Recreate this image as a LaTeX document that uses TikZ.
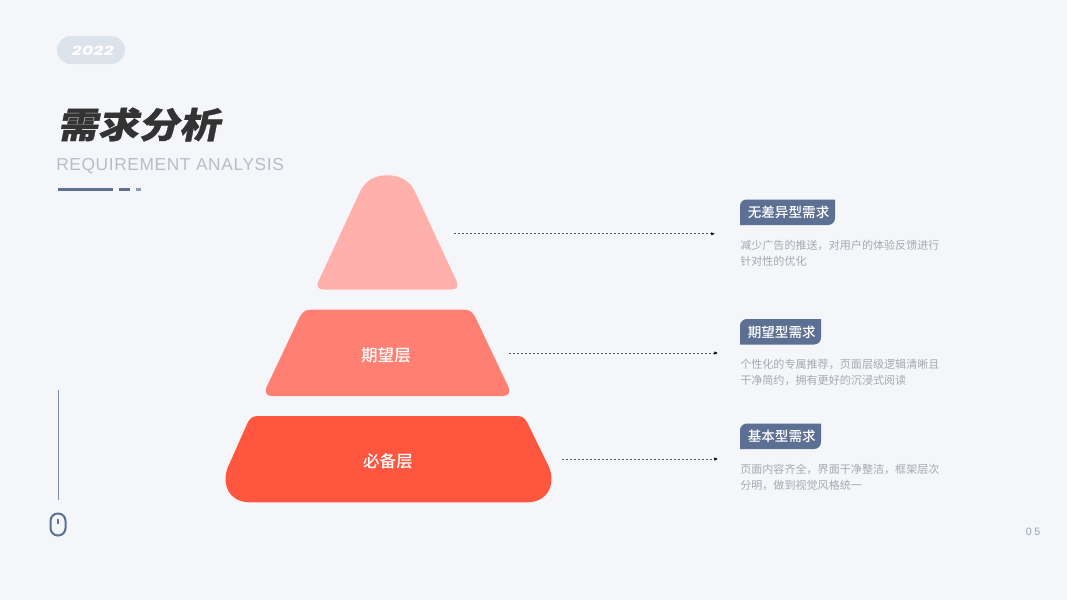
\documentclass[tikz,border=0pt]{standalone}
\usepackage{fontspec}
\setmainfont{Noto Sans CJK SC}
\newfontfamily\medfont{Noto Sans CJK SC Medium}
\newfontfamily\ttlfont[FakeSlant=0.2,FakeBold=0.8,FakeStretch=1.15]{Noto Sans CJK SC Black}
\newfontfamily\yearfont[FakeSlant=0.2,FakeStretch=1.35,LetterSpace=4]{Poppins Bold}
\newfontfamily\enfont[LetterSpace=3.6]{Liberation Sans}
\newfontfamily\numfont[LetterSpace=24]{Liberation Sans}
\usetikzlibrary{arrows.meta}
\definecolor{bgc}{HTML}{F4F6FA}
\definecolor{navy}{HTML}{5C7094}
\definecolor{descc}{HTML}{A8A9AF}
\definecolor{subc}{HTML}{B9BDC9}
\definecolor{pillc}{HTML}{DDE3EA}
\definecolor{lay1}{HTML}{FFB0AA}
\definecolor{lay2}{HTML}{FF8073}
\definecolor{lay3}{HTML}{FF563F}
\tikzset{
  x=0.75pt,y=-0.75pt,
  tagbox/.style={fill=navy,draw=none},
  tagtext/.style={text=white,font=\medfont\fontsize{10.2pt}{12pt}\selectfont,anchor=west,inner sep=0pt},
  desc/.style={text=descc,font=\fontsize{8.3pt}{11.9pt}\selectfont,anchor=north west,inner sep=0pt,align=left},
  laylabel/.style={text=white,font=\medfont\fontsize{12.4pt}{14pt}\selectfont,inner sep=0pt},
  leader/.style={draw=black!65,line width=0.5pt,dash pattern=on 1.7pt off 1.3pt,-{Latex[length=2.8pt,width=2.6pt,black]}}
}
\begin{document}
\begin{tikzpicture}
\useasboundingbox (0,0) rectangle (1067,600);
\fill[bgc] (0,0) rectangle (1067,600);
% year pill
\fill[pillc,rounded corners=10.5pt] (57,36) rectangle (125,64);
\node[inner sep=0pt,text=white,font=\yearfont\fontsize{9.5pt}{12pt}\selectfont] (year) at (92,50.5) {2022};
% title
\node[anchor=west,inner sep=0pt,text=black!80,font=\ttlfont\fontsize{26.5pt}{30pt}\selectfont] (title) at (57,124.5) {需求分析};
\node[anchor=west,inner sep=0pt,text=subc,font=\enfont\fontsize{13pt}{14pt}\selectfont] (sub) at (56,166.5) {REQUIREMENT ANALYSIS};
\fill[navy] (58,187.5) rectangle (113,190.5);
\fill[navy] (119,187.5) rectangle (130,190.5);
\fill[navy!70!white] (136,187.5) rectangle (141,190.5);
% pyramid
\fill[lay1] (360,191.7) .. controls (366,180) and (375,175.3) .. (387.3,175.3)
  .. controls (399.7,175.3) and (409,180) .. (415,191.7)
  -- (455.5,279) .. controls (459.5,286) and (457.5,289.5) .. (451,289.5)
  -- (324,289.5) .. controls (317.5,289.5) and (315.5,286) .. (319.5,279) -- cycle;
\fill[lay2] (300,316.5) .. controls (303,311.5) and (306,309.7) .. (311,309.7)
  -- (464,309.7) .. controls (469,309.7) and (472,311.5) .. (475,316.5)
  -- (507,384) .. controls (511.5,392) and (509,396) .. (503,396)
  -- (272,396) .. controls (266,396) and (263.5,392) .. (268,384) -- cycle;
\fill[lay3] (247.5,423) .. controls (250,418) and (253,416) .. (258,416)
  -- (517,416) .. controls (522,416) and (525,418) .. (527.5,423)
  -- (549,467) .. controls (556,484) and (548,502.3) .. (527,502.3)
  -- (250,502.3) .. controls (229,502.3) and (221,484) .. (228,467) -- cycle;
\node[laylabel] (l2) at (386,355) {期望层};
\node[laylabel] (l3) at (388,461.5) {必备层};
% leaders
\coordinate (a1) at (454,233.8); \coordinate (b1) at (715,233.8);
\coordinate (a2) at (509,353); \coordinate (b2) at (718,353);
\coordinate (a3) at (562,459); \coordinate (b3) at (718,459);
\draw[leader] (a1) -- (b1);
\draw[leader] (a2) -- (b2);
\draw[leader] (a3) -- (b3);
% tags
\fill[tagbox] (740,225) -- (740,206) .. controls (740,202) and (743,199.5) .. (747,199.5)
  -- (835,199.5) -- (835,218) .. controls (835,222) and (832,225) .. (828,225) -- cycle;
\fill[tagbox] (740,344.5) -- (740,326) .. controls (740,322) and (743,319) .. (747,319)
  -- (821,319) -- (821,337.5) .. controls (821,341.5) and (818,344.5) .. (814,344.5) -- cycle;
\fill[tagbox] (740,449) -- (740,430.5) .. controls (740,426.5) and (743,423.5) .. (747,423.5)
  -- (821,423.5) -- (821,442) .. controls (821,446) and (818,449) .. (814,449) -- cycle;
\node[tagtext] (t1) at (747.5,212.5) {无差异型需求};
\node[tagtext] (t2) at (747.5,332) {期望型需求};
\node[tagtext] (t3) at (747.5,436.5) {基本型需求};
\node[desc] (d1) at (740,239.5) {减少广告的推送，对用户的体验反馈进行\\针对性的优化};
\node[desc] (d2) at (740,359) {个性化的专属推荐，页面层级逻辑清晰且\\干净简约，拥有更好的沉浸式阅读};
\node[desc] (d3) at (740,463.5) {页面内容齐全，界面干净整洁，框架层次\\分明，做到视觉风格统一};
% left rail and mouse
\coordinate (r1) at (58,390); \coordinate (r2) at (58,500);
\draw[navy!80!white,line width=0.7pt] (r1) -- (r2);
\draw[navy,line width=1.5pt,rounded corners=5.5pt] (50.5,513.5) rectangle (65.5,535.5);
\coordinate (m1) at (58,519.5); \coordinate (m2) at (58,523.5);
\draw[navy,line width=1.1pt,line cap=round] (m1) -- (m2);
% page number
\node[inner sep=0pt,text=navy!65!white,font=\numfont\fontsize{8pt}{9pt}\selectfont] (pg) at (1033,532) {05};
\end{tikzpicture}
\end{document}
